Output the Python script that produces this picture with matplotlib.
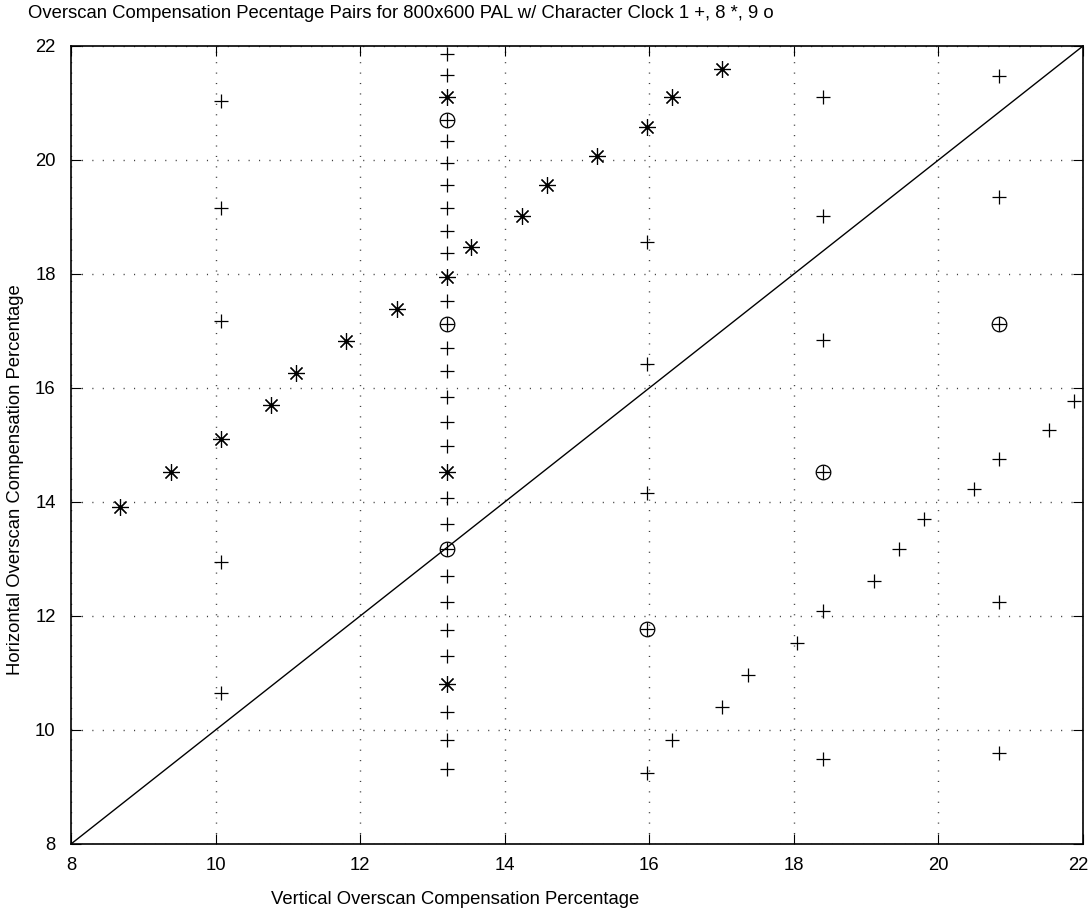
import matplotlib
matplotlib.use("Agg")
import matplotlib.pyplot as plt
import matplotlib.transforms as mtransforms
import numpy as np

plt.rcParams['font.family'] = ['Liberation Sans', 'DejaVu Sans']

# Character clock 1 (+)
plus_x = [10.07, 10.07, 10.07, 10.07, 10.07,
          13.2, 13.2, 13.2, 13.2, 13.2, 13.2, 13.2, 13.2, 13.2, 13.2, 13.2, 13.2, 13.2, 13.2,
          13.2, 13.2, 13.2, 13.2, 13.2, 13.2, 13.2, 13.2, 13.2,
          15.97, 15.97, 15.97, 15.97,
          18.41, 18.41, 18.41, 18.41, 18.41,
          20.84, 20.84, 20.84, 20.84, 20.84,
          16.32, 17.01, 17.36, 18.05, 19.11, 19.45, 19.80, 20.49, 21.53, 21.87]
plus_y = [21.04, 19.15, 17.18, 12.94, 10.65,
          21.86, 21.49, 20.33, 19.94, 19.56, 19.15, 18.76, 18.36, 17.53, 16.70, 16.29, 15.84, 15.41, 14.98,
          14.07, 13.62, 12.71, 12.24, 11.76, 11.29, 10.32, 9.82, 9.32,
          18.56, 16.42, 14.15, 9.24,
          21.10, 19.02, 16.84, 12.08, 9.49,
          21.48, 19.35, 14.75, 12.24, 9.59,
          9.82, 10.40, 10.96, 11.52, 12.62, 13.17, 13.70, 14.22, 15.26, 15.78]

# Character clock 8 (*)
star_x = [8.68, 9.38, 10.07, 10.77, 11.11, 11.81, 12.51, 13.2, 13.54, 14.24, 14.58,
          15.28, 15.97, 16.32, 17.01, 13.2, 13.2, 13.2]
star_y = [13.92, 14.52, 15.10, 15.70, 16.27, 16.83, 17.38, 17.95, 18.48, 19.02, 19.56,
          20.07, 20.58, 21.10, 21.60, 21.10, 14.52, 10.80]

# Character clock 9 (o)
circ_x = [13.2, 13.2, 13.2, 15.97, 18.41, 20.84]
circ_y = [20.71, 17.12, 13.17, 11.77, 14.52, 17.12]

diag = [8, 22]

x_ticks = [8, 10, 12, 14, 16, 18, 20, 22]
y_ticks = [8, 10, 12, 14, 16, 18, 20, 22]

title = "Overscan Compensation Pecentage Pairs for 800x600 PAL w/ Character Clock 1 +, 8 *, 9 o"
xlabel = "Vertical Overscan Compensation Percentage"
ylabel = "Horizontal Overscan Compensation Percentage"

FS = 13.3

fig = plt.figure(figsize=(10.89, 9.09), dpi=100)
ax = fig.add_axes([71/1089, 1-844/909, (1083-71)/1089, (844-46)/909])

ax.set_xlim(8, 22)
ax.set_ylim(8, 22)
ax.set_xticks(x_ticks)
ax.set_yticks(y_ticks)
ax.tick_params(direction='in', length=7, width=0.8, top=True, right=True,
               labelsize=FS, colors='black')
ax.tick_params(axis='x', pad=9)
ax.tick_params(axis='y', pad=11)
ax.grid(True, color='0.25', linestyle=(0, (0.8, 6.7)), linewidth=1.0)
for s in ax.spines.values():
    s.set_linewidth(1.2)

# keep the last x tick label inside the figure
last = ax.get_xticklabels()[-1]
last.set_horizontalalignment('right')
last.set_transform(last.get_transform() +
                   mtransforms.ScaledTranslation(5/100, 0, fig.dpi_scale_trans))

ax.plot(diag, diag, color='black', linewidth=1.0)
ax.plot(plus_x, plus_y, linestyle='none', marker='+', markersize=10,
        markeredgewidth=0.9, color='black')
ax.plot(star_x, star_y, linestyle='none', marker=(8, 2, 0), markersize=12,
        markeredgewidth=0.85, color='black')
ax.plot(star_x, star_y, linestyle='none', marker='o', markersize=2.0,
        markeredgewidth=0, color='black')
ax.plot(circ_x, circ_y, linestyle='none', marker='o', markersize=10.5,
        markerfacecolor='none', markeredgewidth=0.9, color='black')
ax.plot(circ_x, circ_y, linestyle='none', marker='+', markersize=10.5,
        markeredgewidth=0.9, color='black')

fig.text(28/1089, 1-14/909, title, fontsize=FS, ha='left', va='center')
fig.text(455/1089, 1-900/909, xlabel, fontsize=FS, ha='center', va='center')
fig.text(16/1089, 1-480/909, ylabel, fontsize=FS, ha='center', va='center',
         rotation=90)

fig.savefig("out.png", dpi=100)
